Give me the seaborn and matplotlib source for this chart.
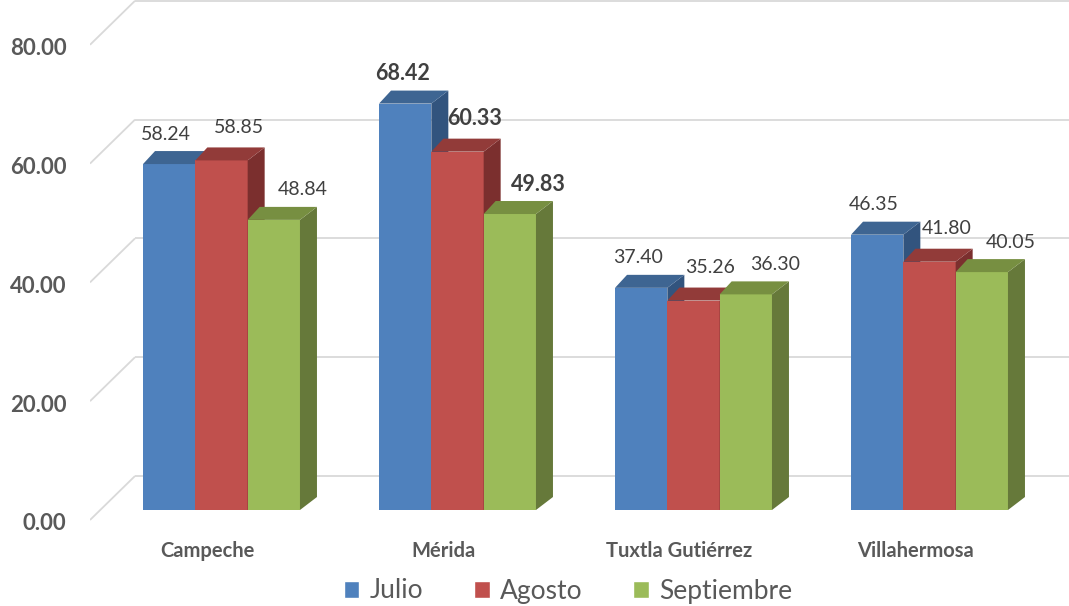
import pandas as pd
import matplotlib
matplotlib.use("Agg")
import matplotlib.pyplot as plt
from matplotlib.patches import Polygon, Patch
from matplotlib.transforms import ScaledTranslation
import seaborn as sns

# data
ciudades = ["Campeche", "Mérida", "Tuxtla Gutiérrez", "Villahermosa"]
meses = ["Julio", "Agosto", "Septiembre"]
julio = [58.24, 68.42, 37.40, 46.35]
agosto = [58.85, 60.33, 35.26, 41.80]
septiembre = [48.84, 49.83, 36.30, 40.05]
y_ticks = [0, 20, 40, 60, 80]
ciudad_destacada = "Mérida"

# colours: front, top, side
front_cols = ["#4F81BD", "#C0504D", "#9BBB59"]
top_cols = ["#3E6592", "#923B39", "#778F41"]
side_cols = ["#32547E", "#7B2F2E", "#66793A"]
grid_col = "#D9D9D9"
text_col = "#595959"
label_col = "#404040"

df = pd.DataFrame({
    "ciudad": ciudades * 3,
    "mes": [m for m in meses for _ in ciudades],
    "valor": julio + agosto + septiembre,
})

sns.set_style("white")
plt.rcParams["font.family"] = ["Lato", "DejaVu Sans"]

W, H, DPI = 1069, 606, 100
fig = plt.figure(figsize=(W / DPI, H / DPI), dpi=DPI)
# axes placed in pixels: left 90, right 1069, top 0, bottom 530
ax = fig.add_axes([90 / W, (H - 530) / H, 979 / W, 530 / H])

sns.barplot(data=df, x="ciudad", y="valor", hue="mes", order=ciudades,
            hue_order=meses, palette=front_cols, width=0.665, saturation=1,
            errorbar=None, legend=False, linewidth=0, ax=ax)

# scale: 236 px per category, 5.94 px per unit; zero of bar fronts at 510 px
px_x = 1 / 236
px_y = 1 / 5.94
ax.set_xlim(-131.5 * px_x, 847.5 * px_x)
ax.set_ylim(-20 * px_y, 510 * px_y)

# 3d depth offsets (px)
dx_right, dx_left, dz = 17, 12, 13
back_off = 34 * px_y       # back wall above the bar fronts
front_off = -10 * px_y     # front edge of the floor/grid
x_lo, x_hi = ax.get_xlim()
back_left = x_lo + 45 * px_x

# pseudo-3d grid: diagonal on the left wall + back wall lines
for t in y_ticks:
    ax.plot([x_lo, back_left], [t + front_off, t + back_off],
            color=grid_col, lw=1.3, zorder=0, solid_capstyle="butt")
    ax.plot([back_left, x_hi], [t + back_off, t + back_off],
            color=grid_col, lw=1.3, zorder=0, solid_capstyle="butt")

label_dx = [-3, 17, 29]   # px, Excel-like label placement per series
label_dy = [30, 33, 30]

for k, cont in enumerate(ax.containers):
    for i, rect in enumerate(cont):
        x0 = rect.get_x()
        x1 = x0 + rect.get_width()
        h = rect.get_height()
        rect.set_zorder(2 + k)
        top = Polygon([(x0, h), (x1, h),
                       (x1 + dx_right * px_x, h + dz * px_y),
                       (x0 + dx_left * px_x, h + dz * px_y)],
                      closed=True, facecolor=top_cols[k], lw=0, zorder=2 + k)
        side = Polygon([(x1, 0), (x1, h),
                        (x1 + dx_right * px_x, h + dz * px_y),
                        (x1 + dx_right * px_x, dz * px_y)],
                       closed=True, facecolor=side_cols[k], lw=0, zorder=2 + k)
        ax.add_patch(side)
        ax.add_patch(top)

        bold = ciudades[i] == ciudad_destacada
        ax.annotate(f"{h:.2f}", xy=((x0 + x1) / 2, h),
                    xytext=(label_dx[k] * 0.72, label_dy[k] * 0.72),
                    textcoords="offset points", ha="center", va="center",
                    fontsize=15.5 if bold else 14,
                    fontweight="bold" if bold else "normal",
                    color=label_col, zorder=10)

ax.set_yticks(y_ticks)
ax.set_yticklabels([f"{t:.2f}" for t in y_ticks], fontsize=16,
                   fontweight="bold", color=text_col)
ax.tick_params(axis="y", length=0, pad=17)
ax.tick_params(axis="x", length=0, pad=8)
for lbl in ax.get_xticklabels():
    lbl.set_fontsize(14.5)
    lbl.set_fontweight("bold")
    lbl.set_color(text_col)
    lbl.set_transform(lbl.get_transform()
                      + ScaledTranslation(-14 / DPI, 0, fig.dpi_scale_trans))
for lbl in ax.get_yticklabels():
    lbl.set_transform(lbl.get_transform()
                      + ScaledTranslation(0, -12 / DPI, fig.dpi_scale_trans))
ax.set_xlabel("")
ax.set_ylabel("")
sns.despine(ax=ax, left=True, bottom=True)

handles = [Patch(facecolor=c) for c in front_cols]
fig.legend(handles, meses, ncol=3, loc="center",
           bbox_to_anchor=(568 / W, 1 - 591 / H), frameon=False,
           fontsize=19, labelcolor=text_col, handlelength=0.6,
           handleheight=0.6, handletextpad=0.4, columnspacing=1.9)

fig.savefig("out.png", dpi=DPI)
